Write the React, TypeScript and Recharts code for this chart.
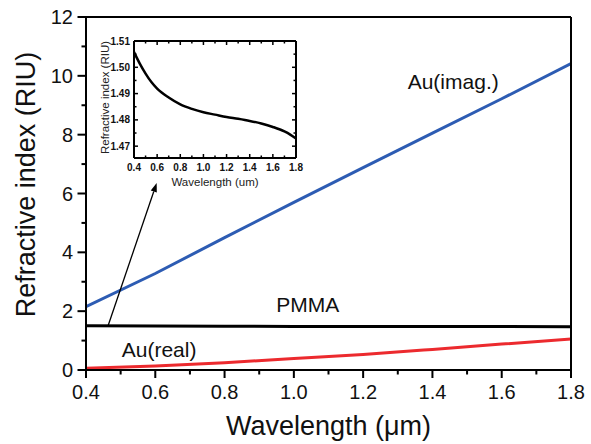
import React from 'react';
import { LineChart, Line, XAxis, YAxis, ReferenceLine, ReferenceDot } from 'recharts';

// Main chart data
const wavelengths = [0.4, 0.6, 0.8, 1.0, 1.2, 1.4, 1.6, 1.8];
const auImag = [2.15, 3.28, 4.5, 5.7, 6.88, 8.05, 9.22, 10.42];
const auReal = [0.06, 0.14, 0.25, 0.39, 0.53, 0.7, 0.88, 1.05];
const pmmaMain = [1.5058, 1.4919, 1.4859, 1.4829, 1.4811, 1.4796, 1.4773, 1.4729];

// Inset data (PMMA)
const insetWavelengths = [0.4, 0.45, 0.5, 0.55, 0.6, 0.7, 0.8, 0.9, 1.0, 1.1, 1.2, 1.3, 1.4, 1.5, 1.6, 1.7, 1.75, 1.8];
const insetIndex = [1.5058, 1.5014, 1.4976, 1.4944, 1.4919, 1.4885, 1.4859, 1.4842, 1.4829, 1.482, 1.4811, 1.4804, 1.4796, 1.4786, 1.4773, 1.4756, 1.4744, 1.4729];

// Ticks
const mainXTicks = [0.4, 0.5, 0.6, 0.7, 0.8, 0.9, 1.0, 1.1, 1.2, 1.3, 1.4, 1.5, 1.6, 1.7, 1.8];
const mainXLabels = ['0.4', '0.6', '0.8', '1.0', '1.2', '1.4', '1.6', '1.8'];
const mainYTicks = [0, 1, 2, 3, 4, 5, 6, 7, 8, 9, 10, 11, 12];
const mainYLabels = ['0', '2', '4', '6', '8', '10', '12'];
const insetXTicks = [0.4, 0.5, 0.6, 0.7, 0.8, 0.9, 1.0, 1.1, 1.2, 1.3, 1.4, 1.5, 1.6, 1.7, 1.8];
const insetXLabels = ['0.4', '0.6', '0.8', '1.0', '1.2', '1.4', '1.6', '1.8'];
const insetYTicks = [1.47, 1.475, 1.48, 1.485, 1.49, 1.495, 1.5, 1.505, 1.51];
const insetYLabels = ['1.47', '1.48', '1.49', '1.50', '1.51'];

// Labels
const seriesLabels = ['Au(imag.)', 'PMMA', 'Au(real)'];
const labelPos = [
  { x: 1.46, y: 9.79 },
  { x: 1.04, y: 2.21 },
  { x: 0.611, y: 0.68 },
];
const arrowStart = { x: 0.463, y: 1.48 };
const arrowEnd = { x: 0.604, y: 6.36 };

const mainData = wavelengths.map((w, i) => ({ w, imag: auImag[i], real: auReal[i], pmma: pmmaMain[i] }));
const insetData = insetWavelengths.map((w, i) => ({ w, n: insetIndex[i] }));

const FONT = '"Liberation Sans", Arial, sans-serif';
const XD: [number, number] = [0.4, 1.8];
const YD: [number, number] = [0, 12];
const IYD: [number, number] = [1.4655, 1.51];

const fmt1 = (v: number) => Number(v).toFixed(1);
const fmt2 = (v: number) => Number(v).toFixed(2);

// Main axis ticks (outward), marks drawn as filled rects
const MainXTick = (props: any) => {
  const x = Number(props.x);
  const y = Number(props.y);
  const s = fmt1(props.payload.value);
  const major = mainXLabels.includes(s);
  const len = major ? 8 : 4.5;
  return (
    <g>
      <rect x={x - 1} y={y} width={2} height={len} fill="#000" />
      {major && (
        <text x={x} y={y + 29} textAnchor="middle" fontSize={20} fill="#111" fontFamily={FONT}>
          {s}
        </text>
      )}
    </g>
  );
};

const MainYTick = (props: any) => {
  const x = Number(props.x);
  const y = Number(props.y);
  const s = String(props.payload.value);
  const major = mainYLabels.includes(s);
  const len = major ? 8.5 : 4.5;
  return (
    <g>
      <rect x={x - len} y={y - 1} width={len} height={2} fill="#000" />
      {major && (
        <text x={x - 13} y={y + 7} textAnchor="end" fontSize={20} fill="#111" fontFamily={FONT}>
          {s}
        </text>
      )}
    </g>
  );
};

// Inset ticks (inward)
const InsetBottomTick = (props: any) => {
  const x = Number(props.x);
  const y = Number(props.y);
  const s = fmt1(props.payload.value);
  const major = insetXLabels.includes(s);
  const len = major ? 4 : 2.5;
  return (
    <g>
      <rect x={x - 0.75} y={y - len} width={1.5} height={len} fill="#000" />
      {major && (
        <text x={x} y={y + 12.5} textAnchor="middle" fontSize={10} fontWeight="bold" fill="#111" fontFamily={FONT}>
          {s}
        </text>
      )}
    </g>
  );
};

const InsetTopTick = (props: any) => {
  const x = Number(props.x);
  const y = Number(props.y);
  const major = insetXLabels.includes(fmt1(props.payload.value));
  const len = major ? 4 : 2.5;
  return <rect x={x - 0.75} y={y} width={1.5} height={len} fill="#000" />;
};

const InsetLeftTick = (props: any) => {
  const x = Number(props.x);
  const y = Number(props.y);
  const s = fmt2(props.payload.value);
  const major = insetYLabels.includes(s) && Math.abs(Number(props.payload.value) * 100 - Math.round(Number(props.payload.value) * 100)) < 1e-6;
  const len = major ? 4 : 2.5;
  return (
    <g>
      <rect x={x} y={y - 0.75} width={len} height={1.5} fill="#000" />
      {major && (
        <text x={x - 4} y={y + 3.5} textAnchor="end" fontSize={10} fontWeight="bold" fill="#111" fontFamily={FONT}>
          {s}
        </text>
      )}
    </g>
  );
};

const InsetRightTick = (props: any) => {
  const x = Number(props.x);
  const y = Number(props.y);
  const v = Number(props.payload.value);
  const major = Math.abs(v * 100 - Math.round(v * 100)) < 1e-6;
  const len = major ? 4 : 2.5;
  return <rect x={x - len} y={y - 0.75} width={len} height={1.5} fill="#000" />;
};

const Arrow = (p: any) => {
  const { x1, y1, x2, y2 } = p;
  const ang = Math.atan2(y2 - y1, x2 - x1);
  const L = 9;
  const W = 3.2;
  const bx = x2 - L * Math.cos(ang);
  const by = y2 - L * Math.sin(ang);
  const pts = `${x2},${y2} ${bx - W * Math.sin(ang)},${by + W * Math.cos(ang)} ${bx + W * Math.sin(ang)},${by - W * Math.cos(ang)}`;
  return (
    <g>
      <line x1={x1} y1={y1} x2={bx} y2={by} stroke="#000" strokeWidth={1.3} />
      <polygon points={pts} fill="#000" />
    </g>
  );
};

const MainYTitle = (props: any) => {
  const vb = props.viewBox || { x: 0, y: 17, width: 86, height: 353 };
  const cy = vb.y + vb.height / 2 - 9;
  return (
    <text x={35} y={cy} transform={`rotate(-90, 35, ${cy})`} textAnchor="middle" fontSize={27} fill="#111" fontFamily={FONT}>
      Refractive index (RIU)
    </text>
  );
};

const MainXTitle = (props: any) => {
  const vb = props.viewBox || { x: 86, y: 370, width: 485, height: 74 };
  return (
    <text x={vb.x + vb.width / 2} y={vb.y + 65} textAnchor="middle" fontSize={27} fill="#111" fontFamily={FONT}>
      Wavelength (μm)
    </text>
  );
};

const InsetYTitle = (props: any) => {
  const vb = props.viewBox || { x: 94, y: 41, width: 40, height: 117 };
  const cy = vb.y + vb.height / 2 - 2;
  const cx = 109;
  return (
    <text x={cx} y={cy} transform={`rotate(-90, ${cx}, ${cy})`} textAnchor="middle" fontSize={11.5} fill="#222" fontFamily={FONT}>
      Refractive index (RIU)
    </text>
  );
};

const InsetXTitle = (props: any) => {
  const vb = props.viewBox || { x: 134, y: 158, width: 162, height: 42 };
  return (
    <text x={vb.x + vb.width / 2} y={vb.y + 28} textAnchor="middle" fontSize={11.5} fill="#222" fontFamily={FONT}>
      Wavelength (um)
    </text>
  );
};

const axisStroke = { stroke: '#000', strokeWidth: 2 };

export default function App() {
  return (
    <div style={{ position: 'absolute', left: 0, top: 0, width: 591, height: 444, background: '#fff', fontFamily: FONT }}>
      <LineChart width={591} height={444} data={mainData} margin={{ top: 17, right: 20, bottom: 0, left: 0 }}>
        <XAxis
          dataKey="w"
          type="number"
          domain={XD}
          ticks={mainXTicks}
          interval={0}
          height={74}
          tickSize={0}
          tickMargin={0}
          tickLine={false}
          tick={<MainXTick />}
          axisLine={axisStroke}
          allowDataOverflow
          label={<MainXTitle />}
        />
        <XAxis xAxisId="top" orientation="top" dataKey="w" type="number" domain={XD} mirror tick={false} tickLine={false} axisLine={axisStroke} allowDataOverflow />
        <YAxis
          type="number"
          domain={YD}
          ticks={mainYTicks}
          interval={0}
          width={86}
          tickSize={0}
          tickMargin={0}
          tickLine={false}
          tick={<MainYTick />}
          axisLine={axisStroke}
          allowDataOverflow
          label={<MainYTitle />}
        />
        <YAxis yAxisId="right" orientation="right" type="number" domain={YD} mirror tick={false} tickLine={false} axisLine={axisStroke} allowDataOverflow />
        <Line dataKey="pmma" stroke="#000" strokeWidth={3} dot={false} isAnimationActive={false} />
        <Line dataKey="imag" stroke="#2d5cb3" strokeWidth={3} dot={false} isAnimationActive={false} />
        <Line dataKey="real" type="monotone" stroke="#ec2a2e" strokeWidth={3} dot={false} isAnimationActive={false} />
        <ReferenceLine segment={[arrowStart, arrowEnd]} shape={(p: any) => <Arrow {...p} />} />
        {seriesLabels.map((s, i) => (
          <ReferenceDot
            key={s}
            x={labelPos[i].x}
            y={labelPos[i].y}
            r={0}
            fill="none"
            stroke="none"
            label={{ value: s, position: 'center', fontSize: 21, fill: '#111', fontFamily: FONT }}
          />
        ))}
      </LineChart>
      <div style={{ position: 'absolute', left: 0, top: 0, width: 310, height: 200 }}>
        <LineChart width={310} height={200} data={insetData} margin={{ top: 41, right: 14, bottom: 0, left: 94 }}>
          <XAxis
            dataKey="w"
            type="number"
            domain={XD}
            ticks={insetXTicks}
            interval={0}
            height={42}
            tickSize={0}
            tickMargin={0}
            tickLine={false}
            tick={<InsetBottomTick />}
            axisLine={axisStroke}
            allowDataOverflow
            label={<InsetXTitle />}
          />
          <XAxis
            xAxisId="top"
            orientation="top"
            dataKey="w"
            type="number"
            domain={XD}
            ticks={insetXTicks}
            interval={0}
            mirror
            tickSize={0}
            tickMargin={0}
            tickLine={false}
            tick={<InsetTopTick />}
            axisLine={axisStroke}
            allowDataOverflow
          />
          <YAxis
            type="number"
            domain={IYD}
            ticks={insetYTicks}
            interval={0}
            width={40}
            tickSize={0}
            tickMargin={0}
            tickLine={false}
            tick={<InsetLeftTick />}
            axisLine={axisStroke}
            allowDataOverflow
            label={<InsetYTitle />}
          />
          <YAxis
            yAxisId="right"
            orientation="right"
            type="number"
            domain={IYD}
            ticks={insetYTicks}
            interval={0}
            mirror
            tickSize={0}
            tickMargin={0}
            tickLine={false}
            tick={<InsetRightTick />}
            axisLine={axisStroke}
            allowDataOverflow
          />
          <Line dataKey="n" type="monotone" stroke="#000" strokeWidth={2.5} dot={false} isAnimationActive={false} />
        </LineChart>
      </div>
    </div>
  );
}
